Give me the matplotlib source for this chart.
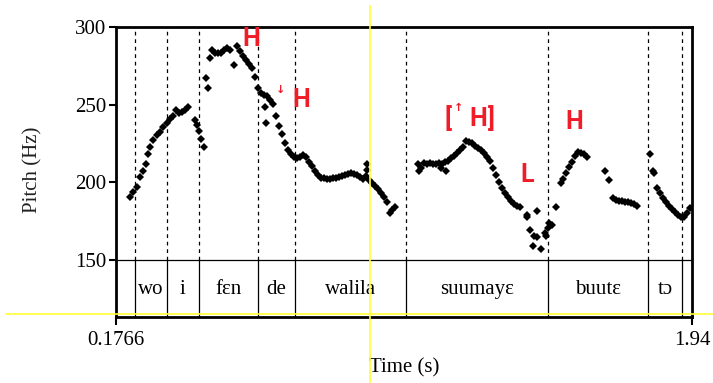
import matplotlib
matplotlib.use("Agg")
import matplotlib.pyplot as plt
from matplotlib.lines import Line2D

# ---- pitch track (time in s, F0 in Hz), one list pair per voiced stretch ----
t_wo_i = [0.2195, 0.2296, 0.2400, 0.2501, 0.2593, 0.2675, 0.2737, 0.2807, 0.2908,
          0.3012, 0.3113, 0.3214, 0.3318, 0.3419, 0.3511, 0.3603, 0.3695, 0.3787,
          0.3879, 0.3970]
f_wo_i = [190.8, 194.0, 197.2, 203.2, 207.5, 211.8, 218.2, 223.0, 227.3,
          230.5, 232.5, 235.5, 238.0, 240.6, 243.0, 246.6, 244.4, 245.5,
          246.5, 248.7]

t_i_tail = [0.4185, 0.4246, 0.4307, 0.4353, 0.4445]
f_i_tail = [240.0, 237.0, 233.0, 228.0, 223.0]

t_fen_de = [0.4522, 0.4583, 0.4644, 0.4705, 0.4797, 0.4889, 0.4981, 0.5073, 0.5165,
            0.5257, 0.5379, 0.5471, 0.5563, 0.5655, 0.5747, 0.5839, 0.5931, 0.6022,
            0.6114, 0.6206, 0.6298, 0.6328, 0.6359, 0.6390, 0.6482, 0.6573, 0.6665,
            0.6757, 0.6849, 0.6941, 0.7033, 0.7125]
f_fen_de = [267.0, 260.5, 280.0, 285.0, 283.5, 283.0, 283.5, 285.0, 286.5,
            285.5, 275.5, 287.8, 284.5, 281.5, 278.5, 276.0, 273.5, 268.0,
            260.5, 257.5, 256.0, 248.3, 238.5, 255.5, 253.0, 250.5, 243.0,
            236.0, 231.0, 225.0, 221.0, 218.5]

t_walila = [0.7217, 0.7309, 0.7400, 0.7492, 0.7584, 0.7676, 0.7768, 0.7860, 0.7952,
            0.8044, 0.8136, 0.8228, 0.8319, 0.8411, 0.8503, 0.8595, 0.8687, 0.8779,
            0.8871, 0.8963, 0.9055, 0.9146, 0.9238, 0.9330, 0.9422, 0.9437, 0.9452,
            0.9514, 0.9606, 0.9698, 0.9790, 0.9882, 0.9974, 1.0066, 1.0157, 1.0219,
            1.0311]
f_walila = [216.5, 215.5, 216.5, 217.5, 216.0, 213.0, 210.5, 207.5, 205.0,
            203.0, 202.5, 202.0, 202.0, 202.5, 203.0, 203.5, 204.0, 204.7,
            205.5, 206.0, 205.5, 204.5, 203.5, 202.0, 204.0, 212.0, 208.0,
            201.5, 199.5, 197.5, 195.5, 193.0, 190.5, 187.5, 180.5, 182.0,
            184.0]

t_suumaye = [1.1013, 1.1043, 1.1105, 1.1197, 1.1289, 1.1380, 1.1472, 1.1564, 1.1656,
             1.1717, 1.1748, 1.1840, 1.1871, 1.1932, 1.2023, 1.2115, 1.2207, 1.2299,
             1.2391, 1.2483, 1.2575, 1.2667, 1.2758, 1.2850, 1.2942, 1.3034, 1.3126,
             1.3218, 1.3310, 1.3401, 1.3493, 1.3585, 1.3677, 1.3769, 1.3861, 1.3953,
             1.4045, 1.4136]
f_suumaye = [212.0, 207.0, 209.0, 212.5, 212.0, 212.5, 212.0, 212.0, 212.5,
             209.0, 212.0, 213.0, 207.0, 214.0, 215.5, 217.0, 219.0, 221.0,
             223.0, 226.5, 226.0, 225.0, 223.5, 222.0, 220.5, 219.0, 216.5,
             213.5, 209.0, 205.0, 200.5, 196.5, 193.0, 190.5, 188.0, 186.0,
             185.0, 184.3]

t_scatter = [1.4339, 1.4363, 1.4455, 1.4531, 1.4562, 1.4644, 1.4654, 1.4791,
             1.4898, 1.4929, 1.4991, 1.5022, 1.5113]
f_scatter = [177.9, 179.0, 169.5, 159.0, 165.5, 181.5, 165.0, 157.0,
             167.2, 165.5, 170.5, 173.6, 172.5]

t_buute = [1.5238, 1.5391, 1.5452, 1.5544, 1.5636, 1.5728, 1.5820, 1.5912, 1.6003,
           1.6095, 1.6172]
f_buute = [184.0, 199.5, 202.0, 206.0, 210.0, 213.0, 217.0, 219.5, 219.0,
           218.5, 216.0]

t_buute_tail = [1.6739, 1.6861, 1.6984, 1.7076, 1.7168, 1.7260, 1.7352, 1.7443,
                1.7535, 1.7627, 1.7719]
f_buute_tail = [207.5, 201.5, 190.0, 188.5, 188.0, 188.0, 187.5, 187.5,
                187.0, 186.0, 184.5]

t_to = [1.8117, 1.8209, 1.8239, 1.8331, 1.8423, 1.8515, 1.8607, 1.8699, 1.8790,
        1.8882, 1.8974, 1.9066, 1.9158, 1.9250, 1.9342]
f_to = [218.5, 207.5, 206.0, 196.5, 193.0, 190.0, 187.5, 185.0, 183.0,
        181.0, 179.0, 177.5, 178.0, 180.0, 183.5]

# ---- word tier: word i spans boundaries[i] .. boundaries[i+1] ----
boundaries = [0.2357, 0.3318, 0.4307, 0.6105, 0.7256, 1.0645, 1.4993, 1.8046, 1.9105]
words = ["wo", "i", "fɛn", "de", "walila", "suumayɛ", "buutɛ", "tɔ"]

t_start, t_end = 0.1766, 1.94
f_min, f_max = 150, 300
tier_floor = 113.3
y_ticks = [150, 200, 250, 300]

serif = ["Liberation Serif", "DejaVu Serif"]
red = "#f01c28"

fig = plt.figure(figsize=(7.13, 3.83), dpi=100)
ax = fig.add_axes([116 / 713, 66 / 383, 576 / 713, 290 / 383])

segments = [(t_wo_i, f_wo_i), (t_i_tail, f_i_tail), (t_fen_de, f_fen_de),
            (t_walila, f_walila), (t_suumaye, f_suumaye), (t_scatter, f_scatter),
            (t_buute, f_buute), (t_buute_tail, f_buute_tail), (t_to, f_to)]
for ts, fs in segments:
    ax.plot(ts, fs, linestyle="none", marker="D", markersize=4.2,
            color="black", markeredgewidth=0)

# boundaries: dotted over the pitch panel, solid inside the tier
for b in boundaries:
    ax.plot([b, b], [f_min, f_max], color="black", lw=0.9,
            linestyle=(0, (3, 3)))
    ax.plot([b, b], [tier_floor, f_min], color="black", lw=0.9)
ax.axhline(f_min, color="black", lw=0.9)

for left, right, w in zip(boundaries[:-1], boundaries[1:], words):
    ax.text((left + right) / 2, 131.3, w, ha="center", va="center",
            fontsize=15, family=serif)

ax.set_xlim(t_start, t_end)
ax.set_ylim(tier_floor, f_max)
ax.set_xticks([t_start, t_end])
ax.set_xticklabels(["0.1766", "1.94"], family=serif, fontsize=15)
ax.set_yticks(y_ticks)
ax.set_yticklabels([str(v) for v in y_ticks], family=serif, fontsize=15)
ax.tick_params(axis="y", direction="out", length=5, width=1.5, pad=2)
ax.tick_params(axis="x", direction="out", length=6, width=1.5, pad=4)
for sp in ax.spines.values():
    sp.set_linewidth(2.0)
    sp.set_color("black")

ax.set_xlabel("Time (s)", family=serif, fontsize=15, labelpad=6)
ax.set_ylabel("Pitch (Hz)", family=serif, fontsize=15, color="#222222")
ax.yaxis.set_label_coords(-0.127, 0.509)

# tone labels
tone = dict(color=red, fontsize=18, fontweight="bold", family="Roboto",
            ha="center", va="center")
ax.text(0.5899, 292.3, "H", **tone)
ax.text(0.7430, 253.0, "H", **tone)
ax.text(0.6818, 259.5, "↓", color=red, fontsize=8, fontweight="bold",
        ha="center", va="center")
ax.text(1.1937, 240.8, "[", **tone)
ax.text(1.2850, 240.8, "H", **tone)
ax.text(1.3247, 240.8, "]", **tone)
ax.text(1.2243, 248.0, "↑", color=red, fontsize=8, fontweight="bold",
        ha="center", va="center")
ax.text(1.4366, 204.7, "L", **tone)
ax.text(1.5805, 238.8, "H", **tone)

# yellow guide lines across the figure
fig.add_artist(Line2D([370 / 713, 370 / 713], [0, 377 / 383],
                      color="#ffff33", lw=1.2, transform=fig.transFigure))
fig.add_artist(Line2D([6 / 713, 1], [69 / 383, 69 / 383],
                      color="#ffff33", lw=1.2, transform=fig.transFigure))

fig.savefig("out.png", dpi=100)
